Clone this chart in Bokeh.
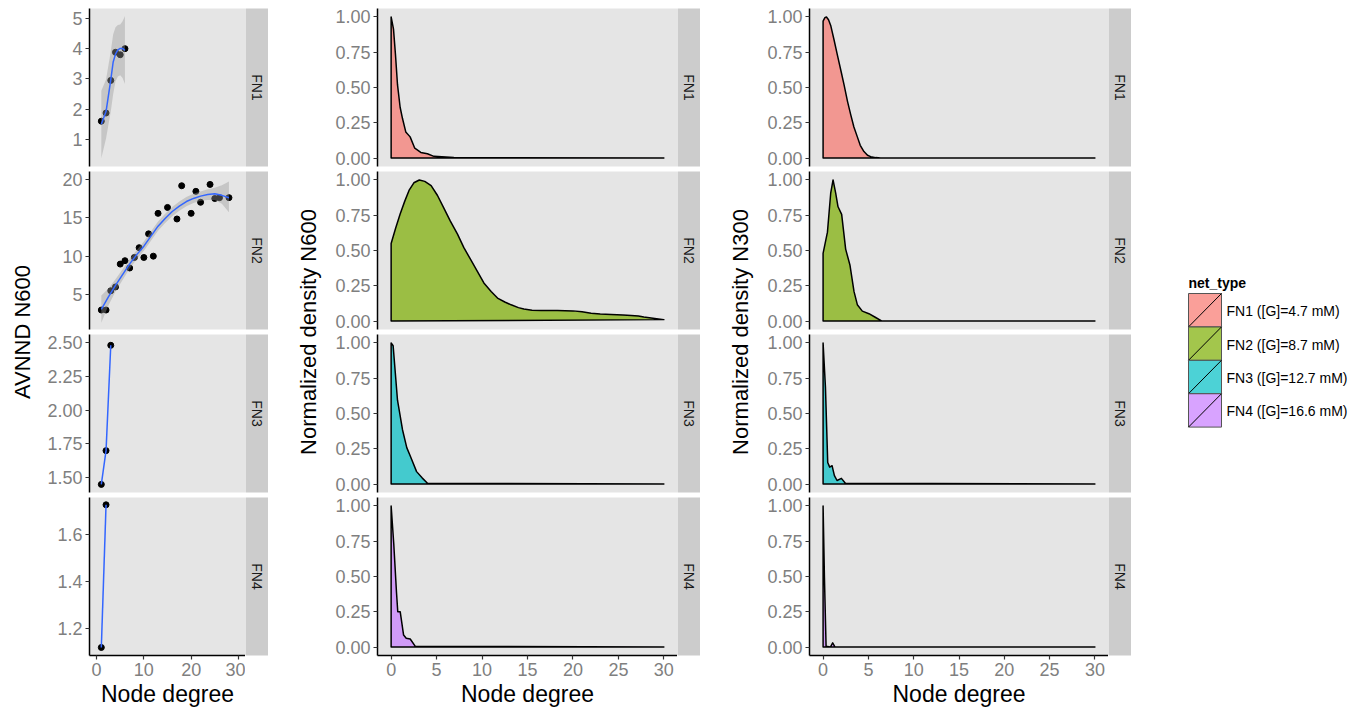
import math
from bokeh.plotting import figure
from bokeh.models import Range1d, FixedTicker, PrintfTickFormatter
from bokeh.layouts import row, column
from bokeh.embed import file_html
from bokeh.resources import INLINE
from bokeh.core.properties import value

# ---------------- data ----------------
types = ["FN1", "FN2", "FN3", "FN4"]
legend_labels = ["FN1 ([G]=4.7 mM)", "FN2 ([G]=8.7 mM)", "FN3 ([G]=12.7 mM)", "FN4 ([G]=16.6 mM)"]
colors = ["#F8766D", "#7CAE00", "#00BFC4", "#C77CFF"]

# AVNND N600 vs node degree (points)
fn1_deg = [1, 2, 3, 4, 5, 6]
fn1_avnnd = [1.60, 1.87, 2.95, 3.88, 3.80, 4.00]
fn2_deg = [1, 2, 3, 4, 5, 6, 7, 8, 9, 10, 11, 12, 13, 15, 17, 18, 20, 21, 22, 24, 25, 26, 28]
fn2_avnnd = [3.0, 3.0, 5.5, 6.0, 8.97, 9.41, 8.46, 9.83, 11.1, 9.83, 12.9, 10.0, 15.56,
             16.33, 14.83, 19.15, 15.56, 18.42, 17.0, 19.32, 17.49, 17.6, 17.6]
fn3_deg = [1, 2, 3]
fn3_avnnd = [1.45, 1.70, 2.48]
fn4_deg = [1, 2]
fn4_avnnd = [1.12, 1.725]

# smooth fits
fn1_fit_x = [1, 2, 3, 3.5, 4, 4.5, 5, 5.5, 6]
fn1_fit_y = [1.50, 1.92, 2.97, 3.55, 3.82, 3.96, 4.01, 4.01, 3.94]
fn1_fit_lo = [0.37, 1.03, 1.92, 2.48, 2.92, 3.08, 3.12, 3.03, 2.83]
fn1_fit_hi = [2.61, 2.98, 3.91, 4.47, 4.71, 4.78, 4.80, 4.91, 5.08]
fn2_fit_x = [1, 2.5, 4, 5.5, 7, 8.5, 10, 11.5, 13, 14.5, 16, 17.5, 19, 20.5, 22, 23.5, 25, 26.5, 28]
fn2_fit_y = [3.1, 4.7, 6.2, 7.6, 9.0, 10.2, 11.3, 12.6, 13.9, 14.9, 15.8, 16.5, 17.1, 17.5,
             17.8, 18.0, 18.1, 17.9, 17.6]
fn2_fit_lo = [1.35, 3.6, 5.4, 6.9, 8.4, 9.6, 10.7, 12.0, 13.3, 14.3, 15.2, 15.9, 16.5, 16.9,
              17.2, 17.3, 17.3, 16.8, 15.7]
fn2_fit_hi = [4.9, 5.8, 7.0, 8.3, 9.6, 10.8, 11.9, 13.2, 14.5, 15.5, 16.4, 17.1, 17.7, 18.1,
              18.4, 18.7, 18.9, 19.2, 19.7]

# normalized densities N600
d600_x = [
    [0, 0.26, 0.48, 0.70, 0.99, 1.25, 1.61, 2.09, 2.6, 3.26, 3.99, 4.7, 6.9, 30],
    [0, 0.5, 1.0, 1.5, 2.0, 2.5, 3.1, 3.7, 4.4, 5.1, 5.8, 6.5, 7.3, 8.0, 8.8, 9.5, 10.2, 11.0,
     11.7, 12.5, 13.2, 14.0, 14.6, 15.5, 16.5, 18.3, 20.0, 21.0, 22.0, 23.0, 24.2, 25.5, 26.4,
     27.2, 27.8, 29.0, 30],
    [0, 0.22, 0.7, 1.25, 1.72, 2.16, 2.8, 3.43, 4.0, 30],
    [0, 0.29, 0.59, 0.73, 1.0, 1.37, 1.66, 2.1, 2.66, 30],
]
d600_y = [
    [1.0, 0.914, 0.73, 0.52, 0.36, 0.28, 0.185, 0.15, 0.07, 0.04, 0.03, 0.012, 0.003, 0],
    [0.55, 0.66, 0.76, 0.85, 0.93, 0.98, 1.0, 0.99, 0.96, 0.89, 0.80, 0.71, 0.616, 0.52, 0.43,
     0.35, 0.27, 0.21, 0.163, 0.135, 0.115, 0.095, 0.085, 0.077, 0.075, 0.074, 0.072, 0.065,
     0.055, 0.05, 0.046, 0.042, 0.04, 0.035, 0.028, 0.018, 0.01],
    [1.0, 0.98, 0.594, 0.385, 0.258, 0.19, 0.088, 0.042, 0.005, 0],
    [1.0, 0.73, 0.387, 0.25, 0.25, 0.085, 0.062, 0.057, 0.005, 0],
]
# normalized densities N300
d300_x = [
    [0, 0.2, 0.37, 0.6, 0.84, 1.2, 1.58, 2.0, 2.31, 2.7, 3.04, 3.4, 3.78, 4.1, 4.51, 4.9, 5.25,
     5.8, 6.35, 30],
    [0, 0.48, 0.84, 1.1, 1.39, 1.65, 2.05, 2.49, 2.97, 3.41, 3.78, 4.33, 5.06, 5.8, 6.5, 30],
    [0, 0.26, 0.51, 0.73, 0.99, 1.25, 1.54, 2.02, 2.46, 30],
    [0, 0.15, 0.33, 0.8, 1.06, 1.32, 30],
]
d300_y = [
    [0.97, 0.995, 1.0, 0.98, 0.94, 0.84, 0.73, 0.61, 0.52, 0.40, 0.31, 0.22, 0.15, 0.09, 0.046,
     0.02, 0.01, 0.003, 0, 0],
    [0.48, 0.63, 0.906, 1.0, 0.906, 0.81, 0.756, 0.51, 0.395, 0.21, 0.116, 0.07, 0.052, 0.025, 0, 0],
    [1.0, 0.687, 0.153, 0.12, 0.13, 0.06, 0.025, 0.04, 0.005, 0],
    [1.0, 0.49, 0.005, 0, 0.03, 0, 0],
]

avnnd_yticks = [[1, 2, 3, 4, 5], [5, 10, 15, 20], [1.5, 1.75, 2.0, 2.25, 2.5], [1.2, 1.4, 1.6]]
avnnd_yfmt = ["%d", "%d", "%.2f", "%.1f"]
avnnd_yrange = [(0.10, 5.33), (0.47, 21.0), (1.39, 2.56), (1.086, 1.756)]
dens_yrange = (-0.06, 1.06)
dens_yticks = [0, 0.25, 0.5, 0.75, 1.0]
x_ticks_avnnd = [0, 10, 20, 30]
x_ticks_dens = [0, 5, 10, 15, 20, 25, 30]
col_titles = ["AVNND N600", "Normalized density N600", "Normalized density N300"]

# ---------------- style / layout ----------------
FONT = "Liberation Sans"
PANEL_BG = "#E5E5E5"
STRIP_BG = "#CCCCCC"
TICK_TXT = "#7F7F7F"
FH = 158
GAP_TOP = 3      # part of the 5px panel gap held by the lower panel
GAP_BOT = 2      # part of the 5px panel gap held by the upper panel
TOP = 8
MB = 54
FW = [156, 300, 299]
ML = [53, 55, 55]
SW = 23
YLAB_W = [36, 54, 54]
YLAB_X = [22, 40, 40]
LEG_W = 228
TOTAL_H = TOP + 4 * FH + 3 * (GAP_TOP + GAP_BOT) + MB
XR = (-1.5, 31.5)


def borders(r):
    return (TOP if r == 0 else GAP_TOP), (MB if r == 3 else GAP_BOT)


def style_axis(ax):
    ax.axis_line_color = "black"
    ax.axis_line_width = 1.5
    ax.major_tick_line_color = "#333333"
    ax.major_tick_line_width = 1.2
    ax.major_tick_out = 4
    ax.major_tick_in = 0
    ax.minor_tick_line_color = None
    ax.major_label_text_font = FONT
    ax.major_label_text_font_size = "18px"
    ax.major_label_text_color = TICK_TXT
    ax.major_label_standoff = 3


def make_panel(c, r, yr, yticks, yfmt, xticks):
    bottom = (r == 3)
    bt, bb = borders(r)
    p = figure(frame_width=FW[c], frame_height=FH,
               x_range=Range1d(*XR), y_range=Range1d(*yr),
               output_backend="svg", toolbar_location=None, title=None,
               x_axis_location="below" if bottom else None,
               min_border_left=ML[c], min_border_right=0,
               min_border_top=bt, min_border_bottom=bb,
               background_fill_color=PANEL_BG, border_fill_color="white",
               outline_line_color=None)
    p.grid.visible = False
    p.yaxis.ticker = FixedTicker(ticks=yticks)
    p.yaxis.formatter = PrintfTickFormatter(format=yfmt)
    style_axis(p.yaxis[0])
    if bottom:
        p.xaxis.ticker = FixedTicker(ticks=xticks)
        style_axis(p.xaxis[0])
        p.xaxis.axis_label = "Node degree"
        p.xaxis.axis_label_text_font = FONT
        p.xaxis.axis_label_text_font_size = "23px"
        p.xaxis.axis_label_text_font_style = "normal"
        p.xaxis.axis_label_text_color = "black"
        p.xaxis.axis_label_standoff = 2
    return p


def make_strip(label, r):
    bt, bb = borders(r)
    s = figure(frame_width=SW, frame_height=FH, x_range=Range1d(0, 1), y_range=Range1d(0, 1),
               x_axis_type=None, y_axis_type=None, output_backend="svg",
               toolbar_location=None, title=None,
               min_border_left=0, min_border_right=0,
               min_border_top=bt, min_border_bottom=bb,
               background_fill_color=STRIP_BG, border_fill_color="white",
               outline_line_color=None)
    s.grid.visible = False
    s.text(x=[0.5], y=[0.5], text=[label], angle=-math.pi / 2, text_align="center",
           text_baseline="middle", text_font=value(FONT), text_font_size="14px",
           text_color="#1A1A1A")
    return s


def make_ylabel(c):
    f = figure(width=YLAB_W[c], height=TOTAL_H, x_range=Range1d(0, YLAB_W[c]),
               y_range=Range1d(TOTAL_H, 0), x_axis_type=None, y_axis_type=None,
               output_backend="svg", toolbar_location=None, title=None,
               min_border=0, outline_line_color=None, border_fill_color="white",
               background_fill_color="white")
    f.grid.visible = False
    f.text(x=[YLAB_X[c]], y=[TOP + (4 * FH + 3 * (GAP_TOP + GAP_BOT)) / 2], text=[col_titles[c]],
           angle=math.pi / 2, text_align="center", text_baseline="middle",
           text_font=value(FONT), text_font_size="22px", text_color="black")
    return f


# column 1: AVNND
avnnd_pts = [(fn1_deg, fn1_avnnd), (fn2_deg, fn2_avnnd), (fn3_deg, fn3_avnnd), (fn4_deg, fn4_avnnd)]
fits = [(fn1_fit_x, fn1_fit_y, fn1_fit_lo, fn1_fit_hi), (fn2_fit_x, fn2_fit_y, fn2_fit_lo, fn2_fit_hi),
        None, None]
col1 = []
for r in range(4):
    p = make_panel(0, r, avnnd_yrange[r], avnnd_yticks[r], avnnd_yfmt[r], x_ticks_avnnd)
    xs, ys = avnnd_pts[r]
    p.scatter(xs, ys, size=6, color="black")
    if fits[r] is not None:
        fx, fy, flo, fhi = fits[r]
        p.varea(x=fx, y1=flo, y2=fhi, fill_color="#999999", fill_alpha=0.4)
        p.line(fx, fy, line_color="#3366FF", line_width=1.5)
    else:
        p.line(xs, ys, line_color="#3366FF", line_width=1.5)
    col1.append(row(p, make_strip(types[r], r), spacing=0))


def dens_column(c, dx, dy):
    out = []
    for r in range(4):
        p = make_panel(c, r, dens_yrange, dens_yticks, "%.2f", x_ticks_dens)
        px = [0] + dx[r]
        py = [0] + dy[r]
        p.patch(px, py, fill_color=colors[r], fill_alpha=0.7, line_color="black",
                line_width=1.5, line_join="round")
        out.append(row(p, make_strip(types[r], r), spacing=0))
    return out


col2 = dens_column(1, d600_x, d600_y)
col3 = dens_column(2, d300_x, d300_y)

# legend
leg = figure(width=LEG_W, height=TOTAL_H, x_range=Range1d(0, LEG_W), y_range=Range1d(TOTAL_H, 0),
             x_axis_type=None, y_axis_type=None, output_backend="svg", toolbar_location=None,
             title=None, min_border=0, outline_line_color=None, border_fill_color="white",
             background_fill_color="white")
leg.grid.visible = False
KX, KY, KS = 57, 293, 33.4
leg.text(x=[KX], y=[KY - 11], text=["net_type"], text_align="left", text_baseline="middle",
         text_font=value(FONT), text_font_size="14px", text_font_style="bold", text_color="black")
for i in range(4):
    top = KY + i * KS
    leg.quad(left=[KX], right=[KX + 33], top=[top], bottom=[top + KS], fill_color=colors[i],
             fill_alpha=0.7, line_color="#555555", line_width=1)
    leg.segment(x0=[KX], y0=[top + KS], x1=[KX + 33], y1=[top], line_color="black", line_width=1)
    leg.text(x=[KX + 38], y=[top + KS / 2 + 1], text=[legend_labels[i]], text_align="left",
             text_baseline="middle", text_font=value(FONT), text_font_size="14px",
             text_color="black")

layout = row(make_ylabel(0), column(col1, spacing=0),
             make_ylabel(1), column(col2, spacing=0),
             make_ylabel(2), column(col3, spacing=0), leg, spacing=0)

open("out.html", "w").write(file_html(layout, INLINE))
